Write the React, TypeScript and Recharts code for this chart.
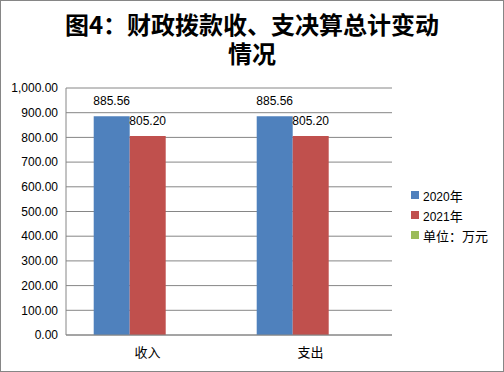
import { BarChart, Bar, XAxis, YAxis, CartesianGrid, LabelList } from 'recharts';

const categories = ['收入', '支出'];
const values2020 = [885.56, 885.56];
const values2021 = [805.2, 805.2];
const unitValues: (number | null)[] = [null, null];
const yTicks = [0, 100, 200, 300, 400, 500, 600, 700, 800, 900, 1000];
const titleLines = ['图4：财政拨款收、支决算总计变动', '情况'];

const SERIES = [
  { key: 'y2020', name: '2020年', color: '#4F81BD' },
  { key: 'y2021', name: '2021年', color: '#C0504D' },
  { key: 'unit', name: '单位：万元', color: '#9BBB59' },
];

const data = categories.map((name, i) => ({
  name,
  y2020: values2020[i],
  y2021: values2021[i],
  unit: unitValues[i],
}));

const NUM_FONT = '"Liberation Sans", Arial, sans-serif';
const CJK_FONT = '"Noto Sans CJK SC", "Noto Sans", sans-serif';
const GRID = '#868686';

function fmt(v: number): string {
  return v.toLocaleString('en-US', { minimumFractionDigits: 2, maximumFractionDigits: 2 });
}

// splits digits / CJK so each part gets its own font size
function LegendLabel({ text }: { text: string }) {
  const parts = text.match(/[0-9.]+|[^0-9.]+/g) ?? [text];
  return (
    <span>
      {parts.map((p, i) =>
        /^[0-9.]+$/.test(p) ? (
          <span key={i} style={{ fontFamily: NUM_FONT, fontSize: 12 }}>{p}</span>
        ) : (
          <span key={i} style={{ fontFamily: CJK_FONT, fontSize: 13 }}>{p}</span>
        ),
      )}
    </span>
  );
}

function ChartLegend() {
  return (
    <div style={{ position: 'absolute', left: 411, top: 185, width: 93 }}>
      {SERIES.map((s) => (
        <div key={s.key} style={{ display: 'flex', alignItems: 'center', height: 20, color: '#000' }}>
          <div style={{ width: 8, height: 8, background: s.color, marginRight: 4 }} />
          <LegendLabel text={s.name} />
        </div>
      ))}
    </div>
  );
}

function Title() {
  return (
    <svg width={504} height={72} style={{ position: 'absolute', top: 0, left: 0 }}>
      {titleLines.map((line, i) => (
        <text
          key={i}
          x={252}
          y={34 + i * 29}
          textAnchor="middle"
          fontFamily={CJK_FONT}
          fontWeight={700}
          fontSize={24}
          fill="#000"
        >
          {line}
        </text>
      ))}
    </svg>
  );
}

export default function App() {
  return (
    <div style={{ position: 'relative', width: 504, height: 372, background: '#fff' }}>
      <style>{'body{margin:0}'}</style>
      <Title />
      <div style={{ position: 'absolute', top: 0, left: 0 }}>
        <BarChart
          width={504}
          height={372}
          data={data}
          margin={{ top: 88, right: 112, bottom: 0, left: 0 }}
          barCategoryGap="17%"
          barGap={0}
        >
          <CartesianGrid vertical={false} stroke={GRID} />
          <XAxis
            dataKey="name"
            axisLine={{ stroke: GRID }}
            tickLine={false}
            tickMargin={7}
            height={37}
            tick={{ fontSize: 13, fill: '#000', fontFamily: CJK_FONT }}
          />
          <YAxis
            width={66}
            domain={[0, 1000]}
            ticks={yTicks}
            interval={0}
            axisLine={{ stroke: GRID }}
            tickLine={false}
            tickFormatter={fmt}
            tick={{ fontSize: 12, fill: '#000', fontFamily: NUM_FONT }}
          />
          {SERIES.map((s) => (
            <Bar key={s.key} dataKey={s.key} name={s.name} fill={s.color} isAnimationActive={false}>
              {s.key !== 'unit' && (
                <LabelList
                  dataKey={s.key}
                  position="top"
                  offset={11}
                  formatter={(v: number) => fmt(v)}
                  style={{ fontSize: 12, fill: '#000', fontFamily: NUM_FONT }}
                />
              )}
            </Bar>
          ))}
        </BarChart>
      </div>
      <ChartLegend />
      <div
        style={{
          position: 'absolute',
          inset: 0,
          border: '1px solid #868686',
          pointerEvents: 'none',
        }}
      />
    </div>
  );
}
